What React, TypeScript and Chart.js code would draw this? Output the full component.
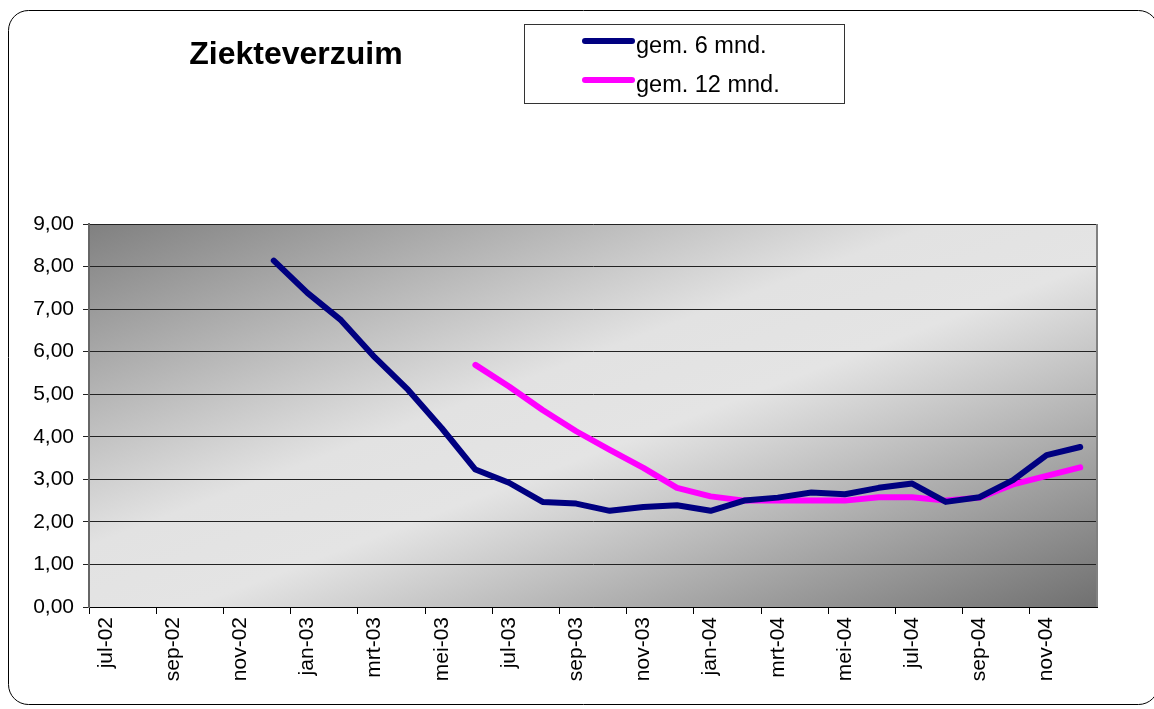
import React, { useEffect, useRef } from "react";
import { Chart, registerables } from "chart.js";

Chart.register(...registerables);

const months = [
  "jul-02", "aug-02", "sep-02", "okt-02", "nov-02", "dec-02",
  "jan-03", "feb-03", "mrt-03", "apr-03", "mei-03", "jun-03",
  "jul-03", "aug-03", "sep-03", "okt-03", "nov-03", "dec-03",
  "jan-04", "feb-04", "mrt-04", "apr-04", "mei-04", "jun-04",
  "jul-04", "aug-04", "sep-04", "okt-04", "nov-04", "dec-04",
];

const avg6: (number | null)[] = [
  null, null, null, null, null, 8.14,
  7.38, 6.74, 5.87, 5.1, 4.2, 3.23,
  2.92, 2.47, 2.43, 2.26, 2.35, 2.39,
  2.26, 2.5, 2.57, 2.69, 2.65, 2.8,
  2.9, 2.47, 2.58, 2.98, 3.57, 3.76,
];

const avg12: (number | null)[] = [
  null, null, null, null, null, null,
  null, null, null, null, null, 5.69,
  5.18, 4.63, 4.13, 3.69, 3.27, 2.8,
  2.6, 2.5, 2.5, 2.5, 2.5, 2.58,
  2.58, 2.5, 2.57, 2.88, 3.08, 3.28,
];

const seriesNames = ["gem. 6 mnd.", "gem. 12 mnd."];
const seriesColors = ["#000080", "#ff00ff"];
const chartTitle = "Ziekteverzuim";
const yTicks = [0, 1, 2, 3, 4, 5, 6, 7, 8, 9];

const FONT = "'Liberation Sans', Arial, sans-serif";

const decorPlugin = {
  id: "decor",
  beforeDraw(chart: any) {
    const { ctx, chartArea } = chart;
    ctx.save();
    ctx.fillStyle = "#ffffff";
    ctx.fillRect(0, 0, chart.width, chart.height);
    // outer rounded frame
    ctx.beginPath();
    ctx.strokeStyle = "#000000";
    ctx.lineWidth = 1;
    if (ctx.roundRect) {
      ctx.roundRect(8.5, 10.5, 1150, 694, 20);
    } else {
      ctx.rect(8.5, 10.5, 1150, 694);
    }
    ctx.stroke();
    // plot area gradient
    const { left, top, right, bottom } = chartArea;
    const W = right - left;
    const H = bottom - top;
    const L = Math.sqrt(W * W + H * H);
    const cx = (left + right) / 2;
    const cy = (top + bottom) / 2;
    const ux = H / L;
    const uy = W / L;
    const d = (W * H) / L;
    const g = ctx.createLinearGradient(cx - ux * d, cy - uy * d, cx + ux * d, cy + uy * d);
    g.addColorStop(0, "#808080");
    g.addColorStop(0.42, "#e2e2e2");
    g.addColorStop(0.55, "#e4e4e4");
    g.addColorStop(1, "#707070");
    ctx.fillStyle = g;
    ctx.fillRect(left, top, W, H);
    ctx.restore();
  },
  beforeDatasetsDraw(chart: any) {
    const { ctx, chartArea } = chart;
    ctx.save();
    ctx.strokeStyle = "#808080";
    ctx.lineWidth = 2;
    ctx.beginPath();
    ctx.moveTo(chartArea.right, chartArea.top);
    ctx.lineTo(chartArea.right, chartArea.bottom);
    ctx.stroke();
    ctx.restore();
  },
  afterDraw(chart: any) {
    const { ctx } = chart;
    ctx.save();
    // title
    ctx.fillStyle = "#000000";
    ctx.font = `bold 32px ${FONT}`;
    ctx.textAlign = "center";
    ctx.textBaseline = "middle";
    ctx.fillText(chartTitle, 296, 55);
    // legend box
    ctx.fillStyle = "#ffffff";
    ctx.fillRect(524, 24, 320, 79);
    ctx.strokeStyle = "#333333";
    ctx.lineWidth = 1;
    ctx.strokeRect(524.5, 24.5, 320, 79);
    const rows = [41, 80];
    seriesNames.forEach((name, i) => {
      ctx.strokeStyle = seriesColors[i];
      ctx.lineWidth = 6;
      ctx.lineCap = "round";
      ctx.beginPath();
      ctx.moveTo(585, rows[i]);
      ctx.lineTo(632, rows[i]);
      ctx.stroke();
      ctx.fillStyle = "#000000";
      ctx.font = `23.5px ${FONT}`;
      ctx.textAlign = "left";
      ctx.textBaseline = "alphabetic";
      ctx.fillText(name, 636, rows[i] + 12);
    });
    ctx.restore();
  },
};

export default function App() {
  const ref = useRef<HTMLCanvasElement | null>(null);
  useEffect(() => {
    if (!ref.current) return;
    const chart = new Chart(ref.current, {
      type: "line",
      data: {
        labels: months,
        datasets: [
          {
            label: seriesNames[0],
            data: avg6,
            borderColor: seriesColors[0],
            backgroundColor: seriesColors[0],
            borderWidth: 6,
            pointRadius: 0,
            tension: 0,
            borderCapStyle: "round",
            borderJoinStyle: "round",
          },
          {
            label: seriesNames[1],
            data: avg12,
            borderColor: seriesColors[1],
            backgroundColor: seriesColors[1],
            borderWidth: 6,
            pointRadius: 0,
            tension: 0,
            borderCapStyle: "round",
            borderJoinStyle: "round",
          },
        ],
      },
      options: {
        animation: false,
        responsive: false,
        maintainAspectRatio: false,
        layout: { padding: { left: 0, top: 224, right: 57, bottom: 0 } },
        plugins: {
          legend: { display: false },
          title: { display: false },
          tooltip: { enabled: false },
        },
        scales: {
          x: {
            offset: true,
            afterFit(scale: any) {
              scale.height = 102;
            },
            grid: {
              offset: true,
              drawOnChartArea: false,
              drawTicks: true,
              tickLength: 7,
              color: (c: any) => (c.index % 2 === 0 ? "#000000" : "rgba(0,0,0,0)"),
              lineWidth: 1,
            },
            border: { display: true, color: "#000000", width: 1 },
            ticks: {
              autoSkip: false,
              maxRotation: 90,
              minRotation: 90,
              padding: 3,
              color: "#000000",
              font: { family: FONT, size: 21 },
              callback: (_v: any, i: number) => (i % 2 === 0 ? months[i] : ""),
            },
          },
          y: {
            min: 0,
            max: 9,
            afterFit(scale: any) {
              scale.width = 89;
            },
            afterBuildTicks(scale: any) {
              scale.ticks = yTicks.map((v) => ({ value: v }));
            },
            grid: {
              color: "#222222",
              lineWidth: 1,
              drawTicks: true,
              tickLength: 6,
            },
            border: { display: true, color: "#666666", width: 2 },
            ticks: {
              padding: 9,
              color: "#000000",
              font: { family: FONT, size: 21 },
              callback: (v: any) => Number(v).toFixed(2).replace(".", ","),
            },
          },
        },
      },
      plugins: [decorPlugin],
    } as any);
    return () => chart.destroy();
  }, []);
  return (
    <div style={{ position: "fixed", left: 0, top: 0, width: 1154, height: 709 }}>
      <canvas ref={ref} width={1154} height={709} style={{ display: "block" }} />
    </div>
  );
}
